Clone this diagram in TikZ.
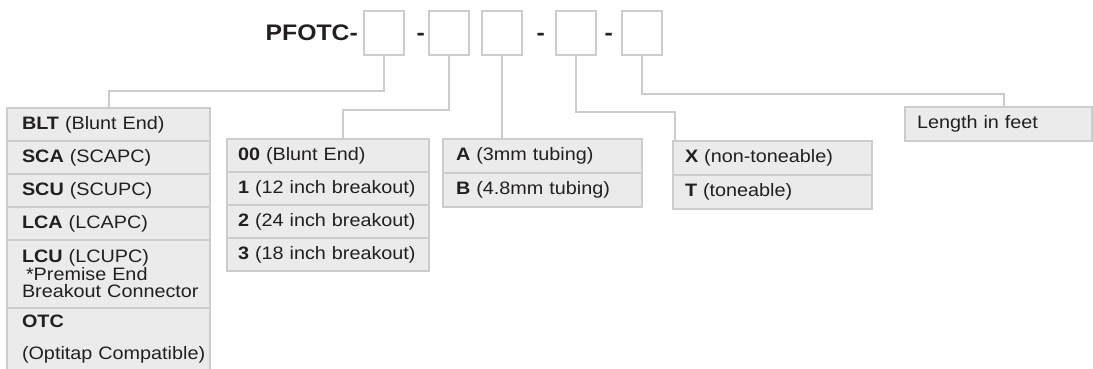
\documentclass[tikz,border=0pt]{standalone}
\usepackage{fontspec}
\setmainfont{Liberation Sans}[FakeStretch=1.1]
\usetikzlibrary{positioning}
\definecolor{rulegray}{HTML}{CCCCCC}
\definecolor{cellgray}{HTML}{EBEBEB}
\definecolor{inkgray}{HTML}{231F20}
\tikzset{
  codebox/.style={draw=rulegray, fill=white, line width=2pt, minimum width=40pt, minimum height=44pt, inner sep=0pt},
  hyph/.style={anchor=base east, inner sep=0pt, text=inkgray, font=\fontsize{22.5}{26}\selectfont\bfseries},
  cell/.style={draw=rulegray, fill=cellgray, line width=2pt, outer sep=0pt, inner ysep=0pt, minimum height=33pt,
    align=left, anchor=north west, text=inkgray, font=\fontsize{18}{17.5}\selectfont},
  conncol/.style={cell, text width=173pt, inner xsep=15pt},
  breakcol/.style={cell, text width=180pt, inner xsep=11pt},
  tubecol/.style={cell, text width=173pt, inner xsep=13pt, minimum height=34pt},
  tonecol/.style={cell, text width=175pt, inner xsep=12pt, minimum height=34pt},
  lencol/.style={cell, text width=163pt, inner xsep=12pt, minimum height=34pt},
  link/.style={draw=rulegray, line width=2pt}
}
\begin{document}
\begin{tikzpicture}[x=1pt, y=-1pt, node distance=0pt]
    \useasboundingbox (0,0) rectangle (1093,368);

    % part number
    \node[hyph] (title) at (358,40) {PFOTC-};
    \node[codebox] (box1) at (384,33) {};
    \node[hyph] (h1) at (425,40) {-};
    \node[codebox] (box2) at (448.5,33) {};
    \node[codebox] (box3) at (501.5,33) {};
    \node[hyph] (h2) at (545,40) {-};
    \node[codebox] (box4) at (575.5,33) {};
    \node[hyph] (h3) at (613,40) {-};
    \node[codebox] (box5) at (642,33) {};

    % connector column
    \node[conncol] (blt) at (7,108) {\textbf{BLT} (Blunt End)};
    \node[conncol, below=of blt] (sca) {\textbf{SCA} (SCAPC)};
    \node[conncol, below=of sca] (scu) {\textbf{SCU} (SCUPC)};
    \node[conncol, below=of scu] (lca) {\textbf{LCA} (LCAPC)};
    \node[conncol, below=of lca, minimum height=68pt] (lcu) {\textbf{LCU} (LCUPC)\\\hspace*{4pt}*Premise End\\\mbox{Breakout Connector}};
    \node[conncol, below=of lcu, minimum height=62pt] (otc) {\textbf{OTC}\\[14pt]\mbox{(Optitap Compatible)}};

    % breakout column
    \node[breakcol] (zero) at (227,139) {\textbf{00} (Blunt End)};
    \node[breakcol, below=of zero] (twelve) {\textbf{1} (12 inch breakout)};
    \node[breakcol, below=of twelve] (twentyfour) {\textbf{2} (24 inch breakout)};
    \node[breakcol, below=of twentyfour] (eighteen) {\textbf{3} (18 inch breakout)};

    % tubing column
    \node[tubecol] (tubeA) at (443,139) {\textbf{A} (3mm tubing)};
    \node[tubecol, below=of tubeA] (tubeB) {\textbf{B} (4.8mm tubing)};

    % tone column
    \node[tonecol] (nontone) at (673,141) {\textbf{X} (non-toneable)};
    \node[tonecol, below=of nontone] (tone) {\textbf{T} (toneable)};

    % length
    \node[lencol] (length) at (905,107) {Length in feet};

    \draw[link] (box1.south) -- ++(0,35) -| (blt.north);
    \draw[link] (box2.south) -- ++(0,54) -| ([xshift=15pt]zero.north);
    \draw[link] (box3.south) -- (box3.south |- tubeA.north);
    \draw[link] (box4.south) -- ++(0,56) -| ([xshift=2pt]nontone.north west);
    \draw[link] (box5.south) -- ++(0,38) -| ([xshift=5pt]length.north);
\end{tikzpicture}
\end{document}
